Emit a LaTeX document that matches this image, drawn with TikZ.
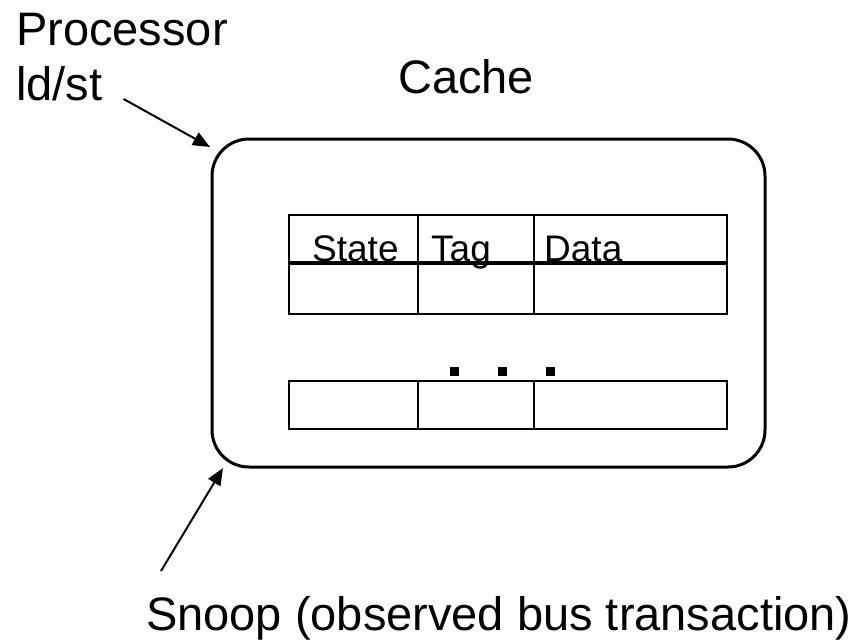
\documentclass[tikz,border=0pt]{standalone}
\usepackage{fontspec}
\setmainfont{Liberation Sans}
\usetikzlibrary{calc,arrows.meta}
\def\bigfont{\fontsize{47}{55}\selectfont}
\def\smallfont{\fontsize{37}{44}\selectfont}
\def\cellnode{\node[draw=black,line width=2.5pt,inner sep=0pt,outer sep=0pt,anchor=north west]}
\def\labnode{\node[inner sep=0pt,anchor=base west]}

\begin{document}
\begin{tikzpicture}[x=1pt,y=-1pt,>={Triangle[length=17pt,width=14pt]}]
\useasboundingbox (0,0) rectangle (867,641);

% ---------- the cache box
\node[draw=black,line width=3pt,rounded corners=37pt,inner sep=0pt,outer sep=0pt,
      minimum width=553pt,minimum height=328pt] (cache) at (488.5,303) {};
\node[inner sep=0pt,anchor=base,font=\bigfont] (cachelabel) at (466,93) {Cache};

% ---------- the lines of the cache
\coordinate (topr) at (289,215); % top left corner of the table
\cellnode[minimum width=129pt,minimum height=48pt] (state) at (topr) {};
\cellnode[minimum width=116pt,minimum height=48pt] (tag) at (state.north east) {};
\cellnode[minimum width=193pt,minimum height=48pt] (data) at (tag.north east) {};
\cellnode[minimum width=129pt,minimum height=51pt] (state1) at (state.south west) {};
\cellnode[minimum width=116pt,minimum height=51pt] (tag1) at (state1.north east) {};
\cellnode[minimum width=193pt,minimum height=51pt] (data1) at (tag1.north east) {};
\draw[line width=4pt] (state.south west) to (data.south east); % header rule

\labnode[font=\smallfont] (statelabel) at ($ (state.south west) + (23,-2) $) {State};
\labnode[font=\smallfont] (taglabel) at ($ (tag.south west) + (13,-2) $) {Tag};
\labnode[font=\smallfont] (datalabel) at ($ (data.south west) + (10,-2) $) {Data};

% the dots between the lines
\coordinate (dots) at ($ (topr) + (165,156) $);
\foreach \dx in {0,48,96}
  \fill ($ (dots) + (\dx,0) $) ++(-4.5,-4.5) rectangle ++(9,9);

% last line
\coordinate (lastr) at ($ (topr) + (0,166) $);
\cellnode[minimum width=129pt,minimum height=48pt] (stateN) at (lastr) {};
\cellnode[minimum width=116pt,minimum height=48pt] (tagN) at (stateN.north east) {};
\cellnode[minimum width=193pt,minimum height=48pt] (dataN) at (tagN.north east) {};

% ---------- processor side
\labnode[font=\bigfont] (proc) at (16,45) {Processor};
\labnode[font=\bigfont] (ldst) at (16,100) {ld/st};
\coordinate (ldst_out) at ($ (ldst.base east) + (21,-1) $);
\coordinate (proc_in) at ($ (cache.north west) + (-2,8) $);
\draw[->,line width=2pt] (ldst_out) to (proc_in);

% ---------- bus side
\labnode[font=\bigfont] (snoop) at (146,630) {Snoop (observed bus transaction)};
\coordinate (snoop_out) at ($ (snoop.base west) + (15,-59) $);
\coordinate (snoop_in) at ($ (cache.south west) + (11,1) $);
\draw[->,line width=2pt] (snoop_out) to (snoop_in);
\end{tikzpicture}
\end{document}
